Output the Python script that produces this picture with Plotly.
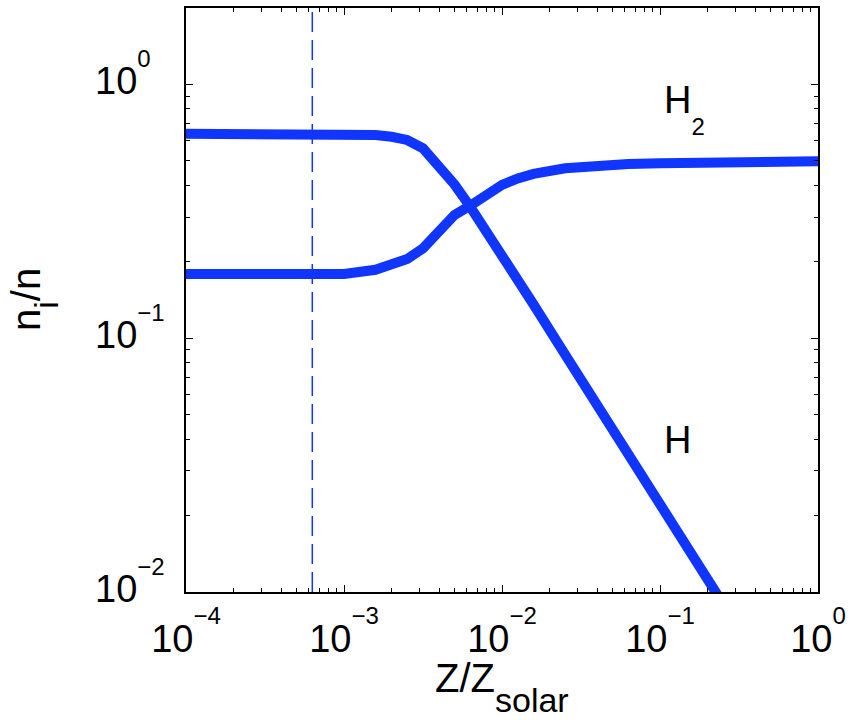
import plotly.graph_objects as go

# Metallicity grid (Z / Z_solar)
z = [0.0001, 0.000316, 0.000631, 0.001, 0.00158, 0.002, 0.00251, 0.00316,
     0.00398, 0.00501, 0.00631, 0.00794, 0.01, 0.0126, 0.0158, 0.0251,
     0.0398, 0.0631, 0.1, 0.316, 1.0]

# Atomic hydrogen fraction n_H / n
n_h = [0.639, 0.640, 0.640, 0.638, 0.632, 0.622, 0.604, 0.560,
       0.481, 0.403, 0.329, 0.266, 0.213, 0.170, 0.136, 0.0862,
       0.0547, 0.0347, 0.0222, 0.00716, 0.00231]

# Molecular hydrogen fraction n_H2 / n
n_h2 = [0.179, 0.178, 0.178, 0.179, 0.186, 0.194, 0.205, 0.226,
        0.266, 0.306, 0.333, 0.371, 0.402, 0.426, 0.444, 0.467,
        0.479, 0.486, 0.489, 0.495, 0.498]

# Critical metallicity marker
z_crit = 6.3e-4
y_span = [0.01, 2.0]

x_tick_exps = [-4, -3, -2, -1, 0]
y_tick_exps = [0, -1, -2]
minor_digits = [2, 3, 4, 5, 6, 7, 8, 9]

BLUE = "#0f35ff"
FONT = "Liberation Sans, Arial, Helvetica, sans-serif"


def power_label(e):
    """10^e with a raised, smaller exponent."""
    exp = str(e).replace("-", "−")
    return ("10<sup><sup><span style=\"font-size:24px\">%s</span></sup></sup>"
            % exp)


def sub_text(base, sub, size, shift):
    return ("%s<sub><span style=\"font-size:%dpx;baseline-shift:-%dpx\">%s"
            "</span></sub>" % (base, size, shift, sub))


def minor_vals(exps):
    lo, hi = min(exps), max(exps)
    return [d * 10.0 ** k for k in range(lo - 1, hi + 1) for d in minor_digits]


fig = go.Figure()
fig.add_trace(go.Scatter(x=[z_crit, z_crit], y=y_span, mode="lines",
                         line=dict(color=BLUE, width=1.5, dash="20px,8px"),
                         showlegend=False, hoverinfo="skip"))
fig.add_trace(go.Scatter(x=z, y=n_h, mode="lines", name="H",
                         line=dict(color=BLUE, width=10), showlegend=False))
fig.add_trace(go.Scatter(x=z, y=n_h2, mode="lines", name="H2",
                         line=dict(color=BLUE, width=10), showlegend=False))

axis_common = dict(
    showline=True, linecolor="black", linewidth=2, mirror="allticks",
    ticks="inside", ticklen=7, tickwidth=1, tickcolor="black",
    showgrid=False, zeroline=False,
)

fig.update_xaxes(type="log", range=[-4, 0], tickmode="array",
                 tickvals=[10.0 ** e for e in x_tick_exps],
                 ticktext=[power_label(e) for e in x_tick_exps],
                 tickfont=dict(family=FONT, size=38, color="black"),
                 ticklabelstandoff=12,
                 minor=dict(ticks="inside", ticklen=4, tickwidth=1,
                            tickcolor="black", showgrid=False,
                            tickmode="array",
                            tickvals=minor_vals(x_tick_exps)),
                 **axis_common)
fig.update_yaxes(type="log", range=[-2, 0.301], tickmode="array",
                 tickvals=[10.0 ** e for e in y_tick_exps],
                 showticklabels=False,
                 minor=dict(ticks="inside", ticklen=4, tickwidth=1,
                            tickcolor="black", showgrid=False,
                            tickmode="array",
                            tickvals=minor_vals(y_tick_exps + [1])),
                 **axis_common)

annotations = []
for e in y_tick_exps:
    annotations.append(dict(x=0, xref="paper", y=e, yref="y",
                            text=power_label(e),
                            xanchor="left", yanchor="middle", xshift=-93,
                            yshift=11, showarrow=False,
                            font=dict(family=FONT, size=38, color="black")))

# Axis titles
annotations.append(dict(x=0.5, xref="paper", y=0, yref="paper",
                        text=sub_text("Z/Z", "solar", 34, 12),
                        xanchor="center", yanchor="top", yshift=-62,
                        showarrow=False,
                        font=dict(family=FONT, size=40, color="black")))
annotations.append(dict(x=0, xref="paper", y=0.5, yref="paper",
                        text=sub_text("n", "i", 34, 10) + "/n",
                        textangle=-90,
                        xanchor="center", yanchor="middle", xshift=-152,
                        showarrow=False,
                        font=dict(family=FONT, size=40, color="black")))

# Curve labels
annotations.append(dict(x=-0.99, xref="x", y=-0.10, yref="y",
                        text=sub_text("H", "2", 24, 14), xanchor="left",
                        yanchor="middle", showarrow=False,
                        font=dict(family=FONT, size=38, color="black")))
annotations.append(dict(x=-0.99, xref="x", y=-1.40, yref="y",
                        text="H", xanchor="left", yanchor="middle",
                        showarrow=False,
                        font=dict(family=FONT, size=38, color="black")))

fig.update_layout(
    width=854, height=724,
    margin=dict(l=186, r=36, t=6, b=132),
    plot_bgcolor="white", paper_bgcolor="white",
    annotations=annotations,
    font=dict(family=FONT, color="black"),
)

fig.write_html("out.html")
